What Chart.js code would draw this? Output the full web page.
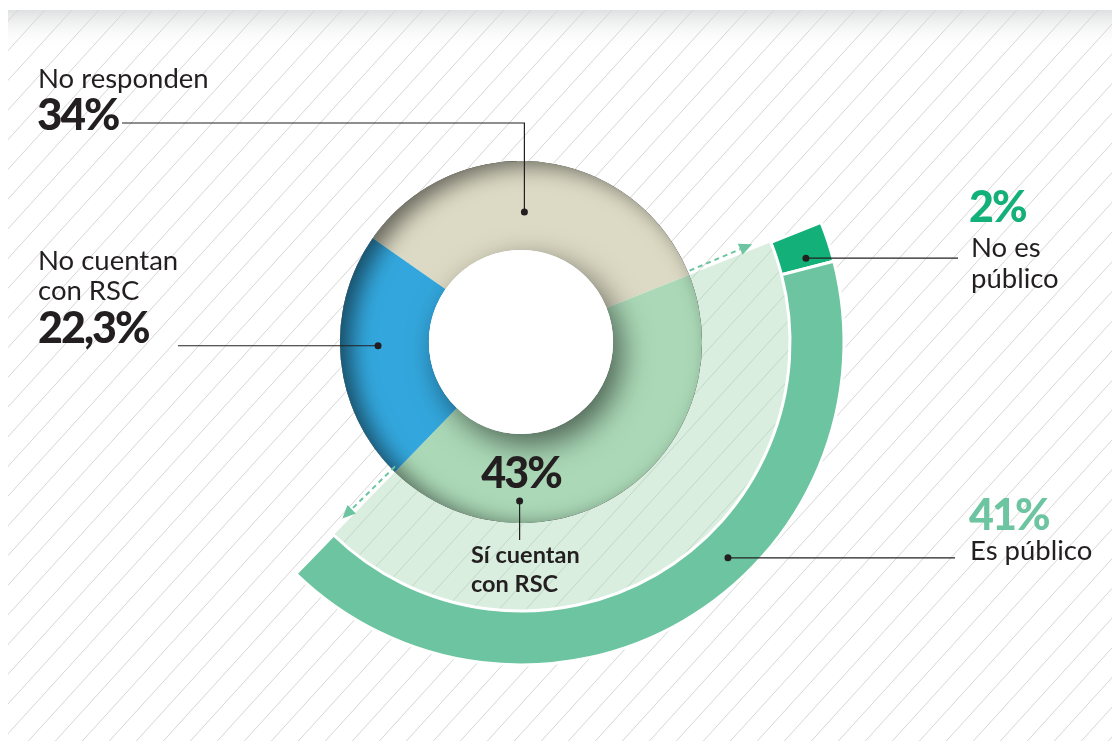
<!DOCTYPE html>
<html lang="es">
<head>
  <meta charset="UTF-8" />
  <title>Empresas con RSC</title>
  <script src="https://cdn.jsdelivr.net/npm/chart.js"></script>
  <style>
    html, body {
      margin: 0;
      padding: 0;
      background: #fff;
    }

    .wrap {
      width: 1112px;
      height: 741px;
      position: relative;
    }
  </style>
</head>
<body>
  <div class="wrap"><canvas id="rsc"></canvas></div>

  <script>
    // datos
    const categorias = [['No responden'], ['Sí cuentan', 'con RSC'], ['No cuentan', 'con RSC']];
    const valores = [34, 43, 22.3];
    const etiquetas = ['34%', '43%', '22,3%'];

    const publicoCategorias = [['No es', 'público'], ['Es público']];
    const publicoValores = [2, 41];
    const publicoEtiquetas = ['2%', '41%'];

    const tinta = '#231f20';
    const giro = -55;
    const total = valores.reduce((a, b) => a + b, 0);
    // el anillo exterior abre el sector "Sí cuentan"
    const inicioSi = giro + valores[0] / total * 360;
    const arcoSi = valores[1] / total * 360;

    function polar(c, angDeg, r) {
      const a = (angDeg - 90) * Math.PI / 180;
      return { x: c.x + r * Math.cos(a), y: c.y + r * Math.sin(a) };
    }

    function texto(ctx, str, x, y, font, color, align, spacing) {
      ctx.font = font;
      ctx.fillStyle = color;
      ctx.textAlign = align || 'left';
      ctx.textBaseline = 'alphabetic';
      ctx.letterSpacing = spacing || '0px';
      ctx.fillText(str, x, y);
    }

    function punto(ctx, p) {
      ctx.beginPath();
      ctx.arc(p.x, p.y, 3.5, 0, Math.PI * 2);
      ctx.fillStyle = tinta;
      ctx.fill();
    }

    function linea(ctx, pts) {
      ctx.beginPath();
      ctx.moveTo(pts[0].x, pts[0].y);
      pts.slice(1).forEach(p => ctx.lineTo(p.x, p.y));
      ctx.strokeStyle = tinta;
      ctx.lineWidth = 1.2;
      ctx.stroke();
    }

    function flecha(ctx, c, ang, r0, r1) {
      const a = polar(c, ang, r0);
      const b = polar(c, ang, r1);
      const dx = b.x - a.x, dy = b.y - a.y;
      const len = Math.hypot(dx, dy);
      const ux = dx / len, uy = dy / len;
      const base = { x: b.x - ux * 13, y: b.y - uy * 13 };
      ctx.save();
      ctx.strokeStyle = '#6cc5a0';
      ctx.fillStyle = '#6cc5a0';
      ctx.lineWidth = 2;
      ctx.setLineDash([5, 4]);
      ctx.beginPath();
      ctx.moveTo(a.x, a.y);
      ctx.lineTo(base.x, base.y);
      ctx.stroke();
      ctx.setLineDash([]);
      ctx.beginPath();
      ctx.moveTo(b.x, b.y);
      ctx.lineTo(base.x - uy * 6, base.y + ux * 6);
      ctx.lineTo(base.x + uy * 6, base.y - ux * 6);
      ctx.closePath();
      ctx.fill();
      ctx.restore();
    }

    // fondo rayado con la sombra gris de arriba
    const fondo = {
      id: 'fondo',
      beforeDraw(chart) {
        const { ctx, width, height } = chart;
        ctx.save();
        ctx.fillStyle = '#fff';
        ctx.fillRect(0, 0, width, height);
        ctx.beginPath();
        ctx.rect(8, 10, width - 8, height - 10);
        ctx.clip();
        const g = ctx.createLinearGradient(0, 10, 0, 50);
        g.addColorStop(0, '#dfe0e1');
        g.addColorStop(1, 'rgba(255,255,255,0)');
        ctx.fillStyle = g;
        ctx.fillRect(8, 10, width, 40);
        ctx.strokeStyle = '#d6d6d6';
        ctx.lineWidth = 1;
        const dx = height / 1.1;
        ctx.beginPath();
        for (let x = -dx; x < width + dx; x += 27) {
          ctx.moveTo(x, height);
          ctx.lineTo(x + dx, 0);
        }
        ctx.stroke();
        ctx.restore();
      }
    };

    // sombras del anillo interior y agujero blanco
    const relieve = {
      id: 'relieve',
      afterDatasetsDraw(chart) {
        const { ctx } = chart;
        const arc = chart.getDatasetMeta(2).data[0];
        const { x, y, innerRadius, outerRadius } = arc.getProps(['x', 'y', 'innerRadius', 'outerRadius'], true);

        ctx.save();
        ctx.beginPath();
        ctx.arc(x, y, outerRadius, 0, Math.PI * 2);
        ctx.clip();
        ctx.beginPath();
        ctx.rect(x - 2000, y - 2000, 4000, 4000);
        ctx.arc(x, y, outerRadius, 0, Math.PI * 2);
        ctx.shadowColor = 'rgba(0,0,0,0.55)';
        ctx.shadowBlur = 22;
        ctx.shadowOffsetX = 11;
        ctx.shadowOffsetY = 4;
        ctx.fillStyle = '#000';
        ctx.fill('evenodd');
        ctx.restore();

        ctx.save();
        ctx.beginPath();
        ctx.arc(x, y, outerRadius, 0, Math.PI * 2);
        ctx.clip();
        ctx.beginPath();
        ctx.arc(x, y, innerRadius, 0, Math.PI * 2);
        ctx.shadowColor = 'rgba(0,0,0,0.55)';
        ctx.shadowBlur = 30;
        ctx.shadowOffsetX = 9;
        ctx.shadowOffsetY = 11;
        ctx.fillStyle = '#fff';
        ctx.fill();
        ctx.restore();

        ctx.beginPath();
        ctx.arc(x, y, innerRadius, 0, Math.PI * 2);
        ctx.fillStyle = '#fff';
        ctx.fill();

        // flechas discontinuas en los bordes del abanico
        const abanico = chart.getDatasetMeta(1).data[0];
        const a0 = abanico.startAngle * 180 / Math.PI + 90;
        const a1 = abanico.endAngle * 180 / Math.PI + 90;
        flecha(ctx, { x, y }, a0 - 1.2, outerRadius + 2, abanico.outerRadius - 18);
        flecha(ctx, { x, y }, a1 + 1.2, outerRadius - 4, abanico.outerRadius - 18);
      }
    };

    // rótulos y líneas guía
    const rotulos = {
      id: 'rotulos',
      afterDraw(chart) {
        const { ctx } = chart;
        const c = chart.getDatasetMeta(2).data[0];
        const fuente = '"Lato", "Noto Sans", sans-serif';
        const normal = '27.5px ' + fuente;
        ctx.save();

        // No responden
        let p = polar(c, 1.5, 130);
        punto(ctx, p);
        linea(ctx, [p, { x: p.x, y: 123 }, { x: 122, y: 123 }]);
        texto(ctx, categorias[0][0], 38, 88, normal, tinta);
        texto(ctx, etiquetas[0], 37, 130, '900 44px ' + fuente, tinta, 'left', '-2px');

        // No cuentan con RSC
        p = polar(c, 268.5, 143);
        punto(ctx, p);
        linea(ctx, [p, { x: 178, y: p.y }]);
        texto(ctx, categorias[2][0], 38, 270, normal, tinta);
        texto(ctx, categorias[2][1], 38, 300, normal, tinta);
        texto(ctx, etiquetas[2], 38, 343, '900 43px ' + fuente, tinta, 'left', '-2px');

        // Sí cuentan con RSC
        p = polar(c, 180.5, 159);
        punto(ctx, p);
        linea(ctx, [p, { x: p.x, y: 540 }]);
        texto(ctx, etiquetas[1], c.x, 488, '900 43px ' + fuente, tinta, 'center', '-2px');
        texto(ctx, categorias[1][0], 471, 563, 'bold 23.5px ' + fuente, tinta);
        texto(ctx, categorias[1][1], 471, 592, 'bold 23.5px ' + fuente, tinta);

        // No es público
        p = polar(c, 73.6, 297);
        punto(ctx, p);
        linea(ctx, [p, { x: 958, y: p.y }]);
        texto(ctx, publicoEtiquetas[0], 969, 222, '900 43px ' + fuente, '#14b07a', 'left', '-2px');
        texto(ctx, publicoCategorias[0][0], 971, 257, normal, tinta);
        texto(ctx, publicoCategorias[0][1], 971, 288, normal, tinta);

        // Es público
        p = polar(c, 136.2, 299);
        punto(ctx, p);
        linea(ctx, [p, { x: 955, y: p.y }]);
        texto(ctx, publicoEtiquetas[1], 969, 530, '900 43px ' + fuente, '#6cc5a0', 'left', '-2px');
        texto(ctx, publicoCategorias[1][0], 970, 560, normal, tinta);

        ctx.restore();
      }
    };

    new Chart(document.getElementById('rsc'), {
      type: 'doughnut',
      data: {
        labels: categorias,
        datasets: [
          {
            label: 'Publicación',
            data: publicoValores,
            backgroundColor: ['#14b07a', '#6cc5a0'],
            borderColor: '#fff',
            borderWidth: 3,
            rotation: inicioSi,
            circumference: arcoSi,
            weight: 54
          },
          {
            label: 'Sí cuentan con RSC',
            data: [valores[1]],
            backgroundColor: 'rgba(171, 217, 183, 0.45)',
            borderWidth: 0,
            rotation: inicioSi,
            circumference: arcoSi,
            weight: 88
          },
          {
            label: 'RSC',
            data: valores,
            backgroundColor: ['#dcdac4', '#abd9b7', '#33a7dd'],
            borderWidth: 0,
            rotation: giro,
            weight: 89
          }
        ]
      },
      options: {
        responsive: true,
        maintainAspectRatio: false,
        animation: false,
        radius: 323,
        cutout: '28.5%',
        layout: {
          padding: { left: 0, right: 70, top: 0, bottom: 57 }
        },
        plugins: {
          legend: { display: false },
          tooltip: { enabled: false }
        }
      },
      plugins: [fondo, relieve, rotulos]
    });
  </script>
</body>
</html>
